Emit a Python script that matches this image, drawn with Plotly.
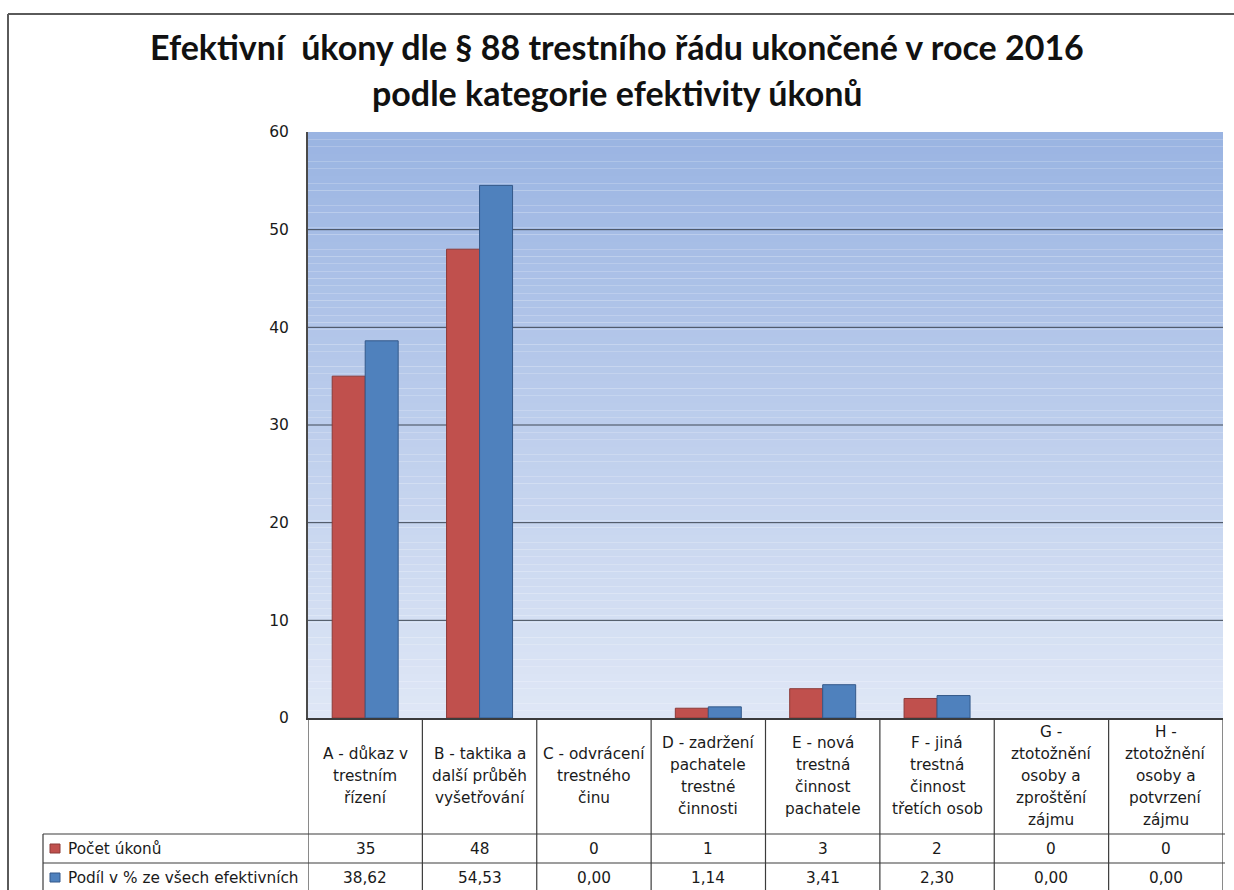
import plotly.graph_objects as go

# ---------------- data ----------------
categories = ["A", "B", "C", "D", "E", "F", "G", "H"]
category_labels = [
    "A - důkaz v<br>trestním<br>řízení",
    "B - taktika a<br>další průběh<br>vyšetřování",
    "C - odvrácení<br>trestného<br>činu",
    "D - zadržení<br>pachatele<br>trestné<br>činnosti",
    "E - nová<br>trestná<br>činnost<br>pachatele",
    "F - jiná<br>trestná<br>činnost<br>třetích osob",
    "G -<br>ztotožnění<br>osoby a<br>zproštění<br>zájmu",
    "H -<br>ztotožnění<br>osoby a<br>potvrzení<br>zájmu",
]
series_names = ["Počet úkonů", "Podíl v % ze všech efektivních"]
pocet_ukonu = [35, 48, 0, 1, 3, 2, 0, 0]
podil_pct = [38.62, 54.53, 0.00, 1.14, 3.41, 2.30, 0.00, 0.00]
y_ticks = [0, 10, 20, 30, 40, 50, 60]
title_lines = ["Efektivní\u00a0 úkony dle § 88 trestního řádu ukončené v roce 2016",
               "podle kategorie efektivity úkonů"]

# ---------------- styling ----------------
W, H = 1234, 890
X0, X1 = 308, 1223      # plot area left/right (px)
YB, YT = 718, 132       # plot area bottom/top (px)
RED, RED_LINE = "#C0504D", "#8C3A38"
BLUE, BLUE_LINE = "#4F81BD", "#34598A"
TXT = "#1a1a1a"
LINE = "#3c3c3c"
FONT = "DejaVu Sans"
TFS = 15.3


def px(x):
    return (x - X0) / (X1 - X0)


def py(y):
    return (YB - y) / (YB - YT)


fig = go.Figure()
fig.add_trace(go.Bar(x=categories, y=pocet_ukonu, name=series_names[0],
                     marker=dict(color=RED, line=dict(color=RED_LINE,
                                                      width=[1 if v > 0 else 0 for v in pocet_ukonu]))))
fig.add_trace(go.Bar(x=categories, y=podil_pct, name=series_names[1],
                     marker=dict(color=BLUE, line=dict(color=BLUE_LINE,
                                                       width=[1 if v > 0 else 0 for v in podil_pct]))))

shapes = []
# gradient plot background
n_bands = 80
top_c = (154, 180, 226)
bot_c = (223, 231, 246)
for i in range(n_bands):
    t = i / (n_bands - 1)
    c = tuple(round(top_c[k] + (bot_c[k] - top_c[k]) * t) for k in range(3))
    shapes.append(dict(type="rect", xref="x domain", yref="y domain",
                       x0=0, x1=1, y0=1 - (i + 1) / n_bands, y1=1 - i / n_bands,
                       fillcolor="rgb(%d,%d,%d)" % c, line=dict(width=0), layer="below"))
# horizontal grid lines (inner ticks only)
for v in y_ticks[1:-1]:
    shapes.append(dict(type="line", xref="x domain", yref="y", x0=0, x1=1, y0=v, y1=v,
                       line=dict(color="#3e4654", width=1), layer="below"))

# outer chart border (left + top)
shapes.append(dict(type="line", xref="paper", yref="paper", x0=px(8), x1=px(W + 5),
                   y0=py(14), y1=py(14), line=dict(color="#5a5a5a", width=2)))
shapes.append(dict(type="line", xref="paper", yref="paper", x0=px(8), x1=px(8),
                   y0=py(14), y1=py(H + 5), line=dict(color="#5a5a5a", width=2)))

# data table grid
row_top = [YB, 834, 863]
row_bot = H + 3
ncat = len(categories)
for i in range(ncat + 1):
    shapes.append(dict(type="line", xref="x", yref="paper", x0=i - 0.5, x1=i - 0.5,
                       y0=py(YB), y1=py(row_bot), line=dict(color=LINE, width=1.2)))
for yline in row_top[1:]:
    shapes.append(dict(type="line", xref="paper", yref="paper", x0=px(43), x1=px(1225),
                       y0=py(yline), y1=py(yline), line=dict(color=LINE, width=1.2)))
shapes.append(dict(type="line", xref="paper", yref="paper", x0=px(43), x1=px(43),
                   y0=py(834), y1=py(row_bot), line=dict(color=LINE, width=1.2)))

# legend keys
for (r0, r1), col, lc in zip([(834, 863), (863, 892)], [RED, BLUE], [RED_LINE, BLUE_LINE]):
    cy = (r0 + r1) / 2
    shapes.append(dict(type="rect", xref="paper", yref="paper", x0=px(50), x1=px(60),
                       y0=py(cy + 4.5), y1=py(cy - 4.5), fillcolor=col,
                       line=dict(color=lc, width=1)))

annotations = []
# title lines (centred on the page)
for ty, line in zip([46, 92], title_lines):
    annotations.append(dict(x=px(W / 2), xref="paper", y=py(ty), yref="paper", text=line,
                            showarrow=False, xanchor="center", yanchor="middle",
                            font=dict(family="Lato", size=34, weight="bold", color="#111111")))

# category labels, one annotation per line
cell_cy = (YB + 834) / 2
LS = 21.8
for i, lab in enumerate(category_labels):
    parts = lab.split("<br>")
    n = len(parts)
    for k, p in enumerate(parts):
        annotations.append(dict(x=categories[i], xref="x", y=py(cell_cy), yref="paper",
                                text=p, showarrow=False, xanchor="center", yanchor="middle",
                                yshift=-(k - (n - 1) / 2) * LS,
                                font=dict(family=FONT, size=TFS, color=TXT)))

# table rows
row_vals = [[str(v) for v in pocet_ukonu],
            [("%.2f" % v).replace(".", ",") for v in podil_pct]]
for r, ((r0, r1), vals, name) in enumerate(zip([(834, 863), (863, 892)], row_vals, series_names)):
    cy = (r0 + r1) / 2
    annotations.append(dict(x=px(66), xref="paper", y=py(cy), yref="paper", text=name,
                            showarrow=False, xanchor="left", yanchor="middle",
                            font=dict(family=FONT, size=TFS, color=TXT)))
    for i, v in enumerate(vals):
        annotations.append(dict(x=categories[i], xref="x", y=py(cy), yref="paper", text=v,
                                showarrow=False, xanchor="center", yanchor="middle",
                                font=dict(family=FONT, size=TFS, color=TXT)))

fig.update_layout(
    width=W, height=H, autosize=False,
    margin=dict(l=X0, r=W - X1, t=YT, b=H - YB, pad=0),
    paper_bgcolor="white", plot_bgcolor="white",
    showlegend=False,
    barmode="group", bargap=0.423, bargroupgap=0,
    xaxis=dict(showticklabels=False, ticks="", showgrid=False, range=[-0.5, ncat - 0.5],
               showline=True, linecolor=LINE, linewidth=1.5, zeroline=False, fixedrange=True),
    yaxis=dict(range=[0, 60], tickvals=y_ticks, ticks="", showgrid=False,
               zeroline=False,
               showline=True, linecolor="#4a4a4a", linewidth=2,
               ticklabelstandoff=14,
               tickfont=dict(family=FONT, size=15.5, color=TXT)),
    shapes=shapes, annotations=annotations,
)

fig.write_html("out.html", config={"displayModeBar": False},
               post_script="document.body.style.margin='0';document.body.style.padding='0';"
                           "document.documentElement.style.overflow='hidden';")
